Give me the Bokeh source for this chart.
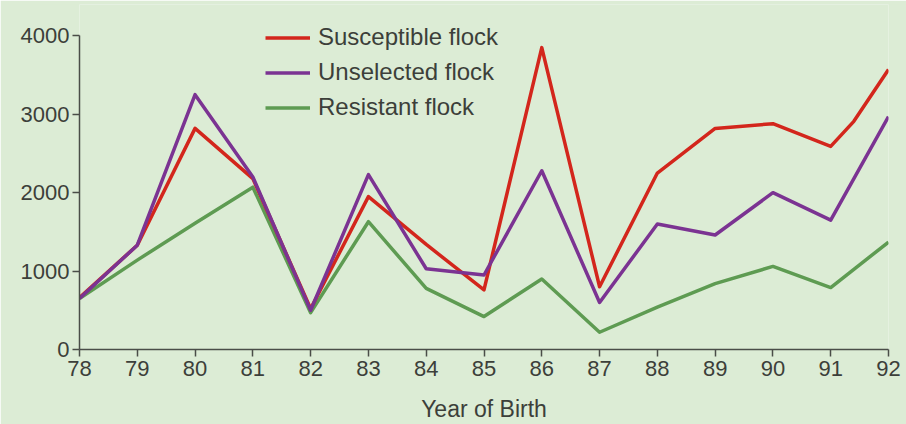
from bokeh.plotting import figure
from bokeh.models import Legend, LegendItem, Range1d, FixedTicker
from bokeh.embed import file_html
from bokeh.resources import INLINE

years = [78, 79, 80, 81, 82, 83, 84, 85, 86, 87, 88, 89, 90, 91, 92]
years_susceptible = [78, 79, 80, 81, 82, 83, 84, 85, 86, 87, 88, 89, 90, 91, 91.4, 92]
susceptible = [660, 1330, 2820, 2180, 520, 1950, 1340, 760, 3850, 800, 2250, 2820, 2880, 2590, 2910, 3570]
unselected = [650, 1330, 3250, 2200, 500, 2230, 1030, 950, 2280, 600, 1600, 1460, 2000, 1650, 2970]
resistant = [650, 1140, 1610, 2070, 470, 1630, 780, 420, 900, 220, 540, 840, 1060, 790, 1370]
y_ticks = [0, 1000, 2000, 3000, 4000]
series_names = ["Susceptible flock", "Unselected flock", "Resistant flock"]

BG = "#dcecd5"
FONT = "Liberation Sans"
TXT = "#3c3f3a"

p = figure(width=906, height=424, output_backend="svg", toolbar_location=None,
           x_range=Range1d(78, 92), y_range=Range1d(0, 4400),
           min_border_left=79, min_border_right=18, min_border_top=4, min_border_bottom=74)
p.background_fill_color = BG
p.border_fill_color = BG
p.outline_line_color = None
p.grid.visible = False

g = p.line(years, resistant, line_color="#5e9b52", line_width=3.5, line_join="round")
r = p.line(years_susceptible, susceptible, line_color="#d3261c", line_width=3.5, line_join="round")
u = p.line(years, unselected, line_color="#7b3392", line_width=3.5, line_join="round")

legend = Legend(items=[LegendItem(label=series_names[0], renderers=[r]),
                       LegendItem(label=series_names[1], renderers=[u]),
                       LegendItem(label=series_names[2], renderers=[g])],
                location=(186, 228), background_fill_alpha=0, border_line_color=None,
                padding=0, margin=0, spacing=7, label_height=27, glyph_height=27,
                glyph_width=45, label_standoff=8,
                label_text_font=FONT, label_text_font_size="24px", label_text_color=TXT)
p.add_layout(legend, "center")

for ax in (p.xaxis, p.yaxis):
    ax.axis_line_color = "#4a4d48"
    ax.axis_line_width = 1.5
    ax.major_tick_line_color = "#4a4d48"
    ax.major_tick_line_width = 1.5
    ax.minor_tick_line_color = None
    ax.major_tick_in = 0
    ax.major_tick_out = 7
    ax.major_label_text_font = FONT
    ax.major_label_text_font_size = "22px"
    ax.major_label_text_color = TXT

p.yaxis.bounds = (0, 4000)
p.xaxis.ticker = FixedTicker(ticks=years)
p.yaxis.ticker = FixedTicker(ticks=y_ticks)
p.xaxis.major_label_standoff = 4
p.yaxis.major_label_standoff = 3
p.xaxis.axis_label = "Year of Birth"
p.xaxis.axis_label_text_font = FONT
p.xaxis.axis_label_text_font_size = "23px"
p.xaxis.axis_label_text_font_style = "normal"
p.xaxis.axis_label_text_color = TXT
p.xaxis.axis_label_standoff = 17

open("out.html", "w").write(file_html(p, INLINE))
